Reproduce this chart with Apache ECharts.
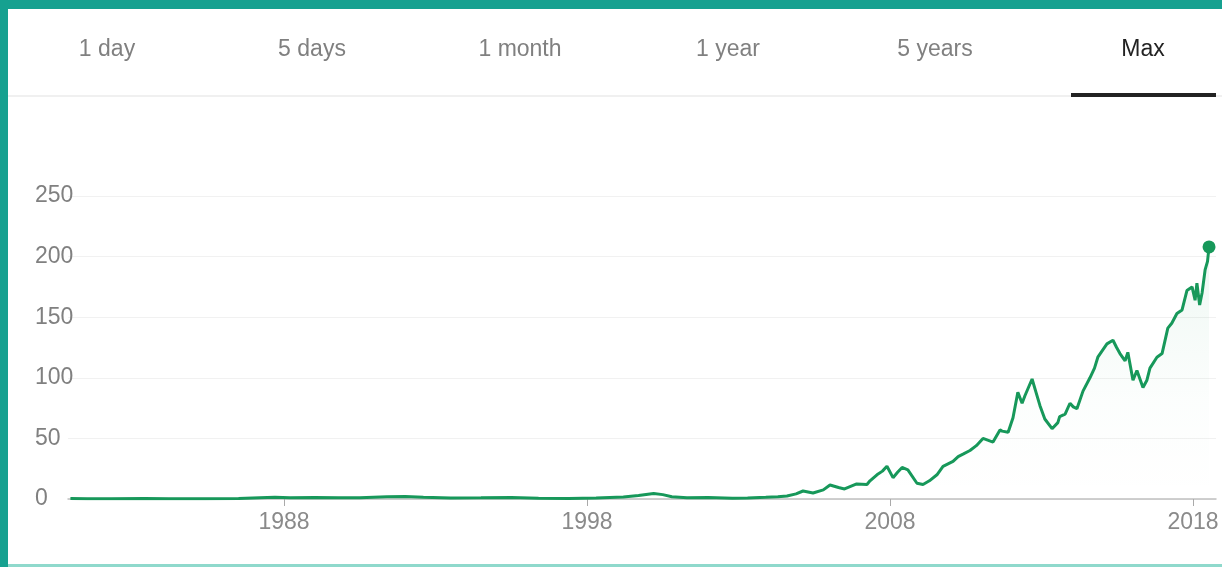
<!DOCTYPE html>
<html>
<head>
<meta charset="utf-8">
<script src="https://cdn.jsdelivr.net/npm/echarts@6/dist/echarts.min.js"></script>
<style>
html,body{margin:0;padding:0;background:#fff;}
#chart{width:1222px;height:567px;}
</style>
</head>
<body>
<div id="chart"></div>
<script>
// Tabs
const tabLabels = ['1 day', '5 days', '1 month', '1 year', '5 years', 'Max'];
const activeTab = 'Max';
// Axis tick labels
const xTickYears = [1988, 1998, 2008, 2018];
const yTicks = [0, 50, 100, 150, 200, 250];
// Series (decimal year, price)
const years = [
  1980.95, 1981.5, 1982.3, 1983.4, 1984.2, 1985.4, 1986.5, 1987.2, 1987.7, 1988.2,
  1989.0, 1989.8, 1990.5, 1991.4, 1992.0, 1992.6, 1993.5, 1994.5, 1995.5, 1996.4,
  1997.4, 1998.3, 1999.2, 1999.7, 2000.2, 2000.5, 2000.8, 2001.3, 2002.0, 2002.8,
  2003.3, 2003.9, 2004.3, 2004.6, 2004.9, 2005.13, 2005.46, 2005.8, 2006.02, 2006.3,
  2006.5, 2006.9, 2007.24, 2007.34, 2007.57, 2007.75, 2007.9, 2008.1, 2008.25, 2008.4,
  2008.59, 2008.89, 2009.09, 2009.3, 2009.55, 2009.75, 2010.08, 2010.25, 2010.41, 2010.64,
  2010.85, 2011.07, 2011.4, 2011.63, 2011.7, 2011.9, 2012.06, 2012.22, 2012.36, 2012.45,
  2012.69, 2012.82, 2012.95, 2013.11, 2013.35, 2013.54, 2013.6, 2013.78, 2013.94, 2014.05,
  2014.17, 2014.37, 2014.6, 2014.75, 2014.86, 2015.16, 2015.36, 2015.48, 2015.59, 2015.76,
  2015.85, 2016.02, 2016.15, 2016.35, 2016.48, 2016.58, 2016.81, 2016.98, 2017.17, 2017.3,
  2017.47, 2017.64, 2017.8, 2017.97, 2018.07, 2018.13, 2018.22, 2018.3, 2018.4, 2018.48,
  2018.53
];
const prices = [
  0.5, 0.3, 0.2, 0.5, 0.3, 0.25, 0.4, 1.0, 1.4, 1.1,
  1.3, 1.1, 1.0, 1.9, 2.0, 1.5, 0.9, 1.0, 1.2, 0.6,
  0.4, 0.9, 1.6, 2.8, 4.6, 3.6, 1.8, 1.0, 1.3, 0.7,
  0.9, 1.4, 1.8, 2.5, 4.2, 6.6, 5.0, 7.5, 11.6, 9.5,
  8.3, 12.4, 12.0, 15.0, 20.0, 23.0, 27.0, 17.6, 22.0, 26.0,
  24.0, 13.0, 12.0, 15.0, 20.0, 27.0, 31.0, 35.0, 37.0, 40.0,
  44.0, 50.0, 47.0, 57.0, 56.0, 55.0, 67.0, 88.0, 79.0, 85.0,
  99.0, 88.0, 77.0, 66.0, 58.0, 63.0, 68.0, 70.0, 79.0, 76.0,
  74.5, 89.0, 100.0, 108.0, 117.0, 128.0, 131.0, 125.0, 120.0, 114.0,
  121.0, 98.0, 106.0, 92.0, 98.0, 108.0, 117.0, 120.0, 141.0, 145.0,
  153.0, 156.0, 172.0, 175.0, 164.0, 178.0, 160.0, 170.0, 189.0, 196.0,
  208.0
];

const seriesData = years.map((y, i) => [y, prices[i]]);
const lastPoint = seriesData[seriesData.length - 1];

const chart = echarts.init(document.getElementById('chart'));

const tabCenters = [107, 312, 520, 728, 935, 1143];
const tabGraphics = tabLabels.map((t, i) => ({
  type: 'text',
  x: tabCenters[i],
  y: 50,
  style: {
    text: t,
    fill: t === activeTab ? '#222' : '#808080',
    font: '23px "Liberation Sans", Arial, sans-serif',
    textAlign: 'center',
    textVerticalAlign: 'middle'
  }
}));

const option = {
  backgroundColor: '#fff',
  animation: false,
  graphic: [
    { type: 'rect', shape: { x: 8, y: 95, width: 1214, height: 2 }, style: { fill: '#f0f0f0' } },
    { type: 'rect', shape: { x: 1071, y: 93, width: 145, height: 4 }, style: { fill: '#222' } },
    { type: 'rect', shape: { x: 0, y: 0, width: 1222, height: 9 }, style: { fill: '#16a190' } },
    { type: 'rect', shape: { x: 0, y: 0, width: 8, height: 567 }, style: { fill: '#16a190' } },
    { type: 'rect', shape: { x: 8, y: 564, width: 1214, height: 3 }, style: { fill: '#8fd9cc' } }
  ].concat(tabGraphics),
  grid: { left: 68, right: 6, top: 196, bottom: 68, containLabel: false },
  xAxis: {
    type: 'value',
    min: 1980.87,
    max: 2018.76,
    axisLine: { show: true, lineStyle: { color: '#c0c0c0', width: 1.5 } },
    axisTick: { show: true, customValues: xTickYears, length: 7, lineStyle: { color: '#aaa' } },
    axisLabel: {
      customValues: xTickYears,
      color: '#8a8a8a',
      fontSize: 23,
      fontFamily: '"Liberation Sans", Arial, sans-serif',
      margin: 12,
      formatter: v => String(Math.round(v))
    },
    splitLine: { show: false }
  },
  yAxis: {
    type: 'value',
    min: 0,
    max: 250,
    interval: 50,
    axisLine: { show: false },
    axisTick: { show: false },
    axisLabel: {
      color: '#808080',
      fontSize: 23,
      fontFamily: '"Liberation Sans", Arial, sans-serif',
      align: 'left',
      margin: 33
    },
    splitLine: { show: true, lineStyle: { color: '#f1f1f1', width: 1 } }
  },
  series: [
    {
      type: 'line',
      data: seriesData,
      showSymbol: false,
      symbol: 'none',
      lineStyle: { color: '#17985a', width: 3 },
      areaStyle: {
        color: new echarts.graphic.LinearGradient(0, 0, 0, 1, [
          { offset: 0, color: 'rgba(23,152,90,0.10)' },
          { offset: 0.6, color: 'rgba(23,152,90,0.02)' },
          { offset: 1, color: 'rgba(23,152,90,0)' }
        ])
      },
      z: 3
    },
    {
      type: 'scatter',
      data: [lastPoint],
      symbolSize: 13,
      itemStyle: { color: '#17985a', opacity: 1 },
      z: 4
    }
  ]
};
chart.setOption(option);
</script>
</body>
</html>
